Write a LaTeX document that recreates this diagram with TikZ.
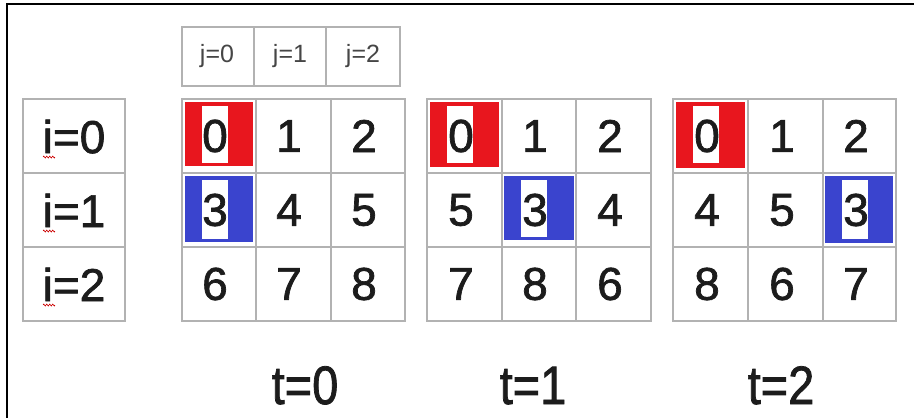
\documentclass[tikz,border=0pt]{standalone}
\usepackage{fontspec}
\setmainfont{Liberation Sans}
\newfontfamily\heavyfont{Liberation Sans}[FakeBold=1.5]
\usetikzlibrary{decorations.pathmorphing}
\definecolor{gridgray}{RGB}{178,178,178}
\definecolor{cellred}{RGB}{232,22,30}
\definecolor{cellblue}{RGB}{58,68,206}
\definecolor{txt}{RGB}{28,28,28}
\definecolor{jtxt}{RGB}{70,70,70}
\begin{document}
\begin{tikzpicture}[x=1pt,y=-1pt,
  gridline/.style={draw=gridgray,line width=2.6pt},
  frameline/.style={draw=black,line width=2pt},
  digit/.style={font=\heavyfont\fontsize{46}{46}\selectfont,text=txt,inner sep=0pt},
  ilabel/.style={font=\heavyfont\fontsize{46}{46}\selectfont,text=txt,inner sep=0pt,anchor=base},
  jlabel/.style={font=\fontsize{25}{25}\selectfont,text=jtxt,inner sep=0pt,anchor=base},
  tlabel/.style={font=\heavyfont\fontsize{47}{47}\selectfont,text=txt,inner sep=0pt,anchor=base},
  squiggle/.style={draw=red!80!black,line width=0.6pt,decorate,decoration={zigzag,segment length=3pt,amplitude=1pt}}]
\useasboundingbox (0,0) rectangle (914,418);
\fill[white] (0,0) rectangle (914,418);
% frame (top and left edges)
\draw[frameline] (7,418) -- (7,4) -- (914,4);

% coloured cells
% t=0
\fill[cellred] (185,102) rectangle (253,166);
\fill[cellblue] (185,176) rectangle (253,242);
% t=1
\fill[cellred] (430,102) rectangle (499,167);
\fill[cellblue] (504,176) rectangle (574,240);
% t=2
\fill[cellred] (676,102) rectangle (745,168);
\fill[cellblue] (825,176) rectangle (893,243);

% white patches behind the highlighted digits
\fill[white] (202,106) rectangle (228,163);
\fill[white] (202,180) rectangle (228,239);
\fill[white] (447,106) rectangle (473,163);
\fill[white] (521,180) rectangle (547,237);
\fill[white] (693,106) rectangle (719,163);
\fill[white] (842,180) rectangle (868,239);

% header j
\draw[gridline] (182,27) rectangle (400,86);
\draw[gridline] (254,27) -- (254,86) (326,27) -- (326,86);
\node[jlabel] (j0) at (217,62) {j=0};
\node[jlabel] (j1) at (290,62) {j=1};
\node[jlabel] (j2) at (363,62) {j=2};

% i column
\draw[gridline] (23,99) rectangle (125,321);
\draw[gridline] (23,173) -- (125,173) (23,247) -- (125,247);
\node[ilabel] (i0) at (74,153) {i=0};
\node[ilabel] (i1) at (74,227) {i=1};
\node[ilabel] (i2) at (74,301) {i=2};
\draw[squiggle] (43,157) -- (55,157);
\draw[squiggle] (43,231) -- (55,231);
\draw[squiggle] (43,305) -- (55,305);

% grids
\foreach \xa/\xb/\xc/\xd in {182/256/331/405, 427/502/576/651, 673/748/823/896}{
  \draw[gridline] (\xa,99) rectangle (\xd,321);
  \draw[gridline] (\xb,99) -- (\xb,321) (\xc,99) -- (\xc,321)
                  (\xa,173) -- (\xd,173) (\xa,247) -- (\xd,247);
}

% digits t=0
\foreach \r/\cy in {0/136,1/210,2/284}{
  \foreach \c/\cx in {0/215,1/289,2/364}{
    \pgfmathtruncatemacro\v{3*\r+\c}
    \node[digit] (a\r\c) at (\cx,\cy) {\v};
  }
}
% digits t=1
\node[digit] (b00) at (461,136) {0};
\node[digit] (b01) at (535,136) {1};
\node[digit] (b02) at (610,136) {2};
\node[digit] (b10) at (461,210) {5};
\node[digit] (b11) at (535,210) {3};
\node[digit] (b12) at (610,210) {4};
\node[digit] (b20) at (461,284) {7};
\node[digit] (b21) at (535,284) {8};
\node[digit] (b22) at (610,284) {6};
% digits t=2
\node[digit] (c00) at (707,136) {0};
\node[digit] (c01) at (782,136) {1};
\node[digit] (c02) at (856,136) {2};
\node[digit] (c10) at (707,210) {4};
\node[digit] (c11) at (782,210) {5};
\node[digit] (c12) at (856,210) {3};
\node[digit] (c20) at (707,284) {8};
\node[digit] (c21) at (782,284) {6};
\node[digit] (c22) at (856,284) {7};

% time labels
\node[tlabel] (t0) at (305,404) {\scalebox{1}[1.15]{t=0}};
\node[tlabel] (t1) at (533,404) {\scalebox{1}[1.15]{t=1}};
\node[tlabel] (t2) at (781,404) {\scalebox{1}[1.15]{t=2}};
\end{tikzpicture}
\end{document}
